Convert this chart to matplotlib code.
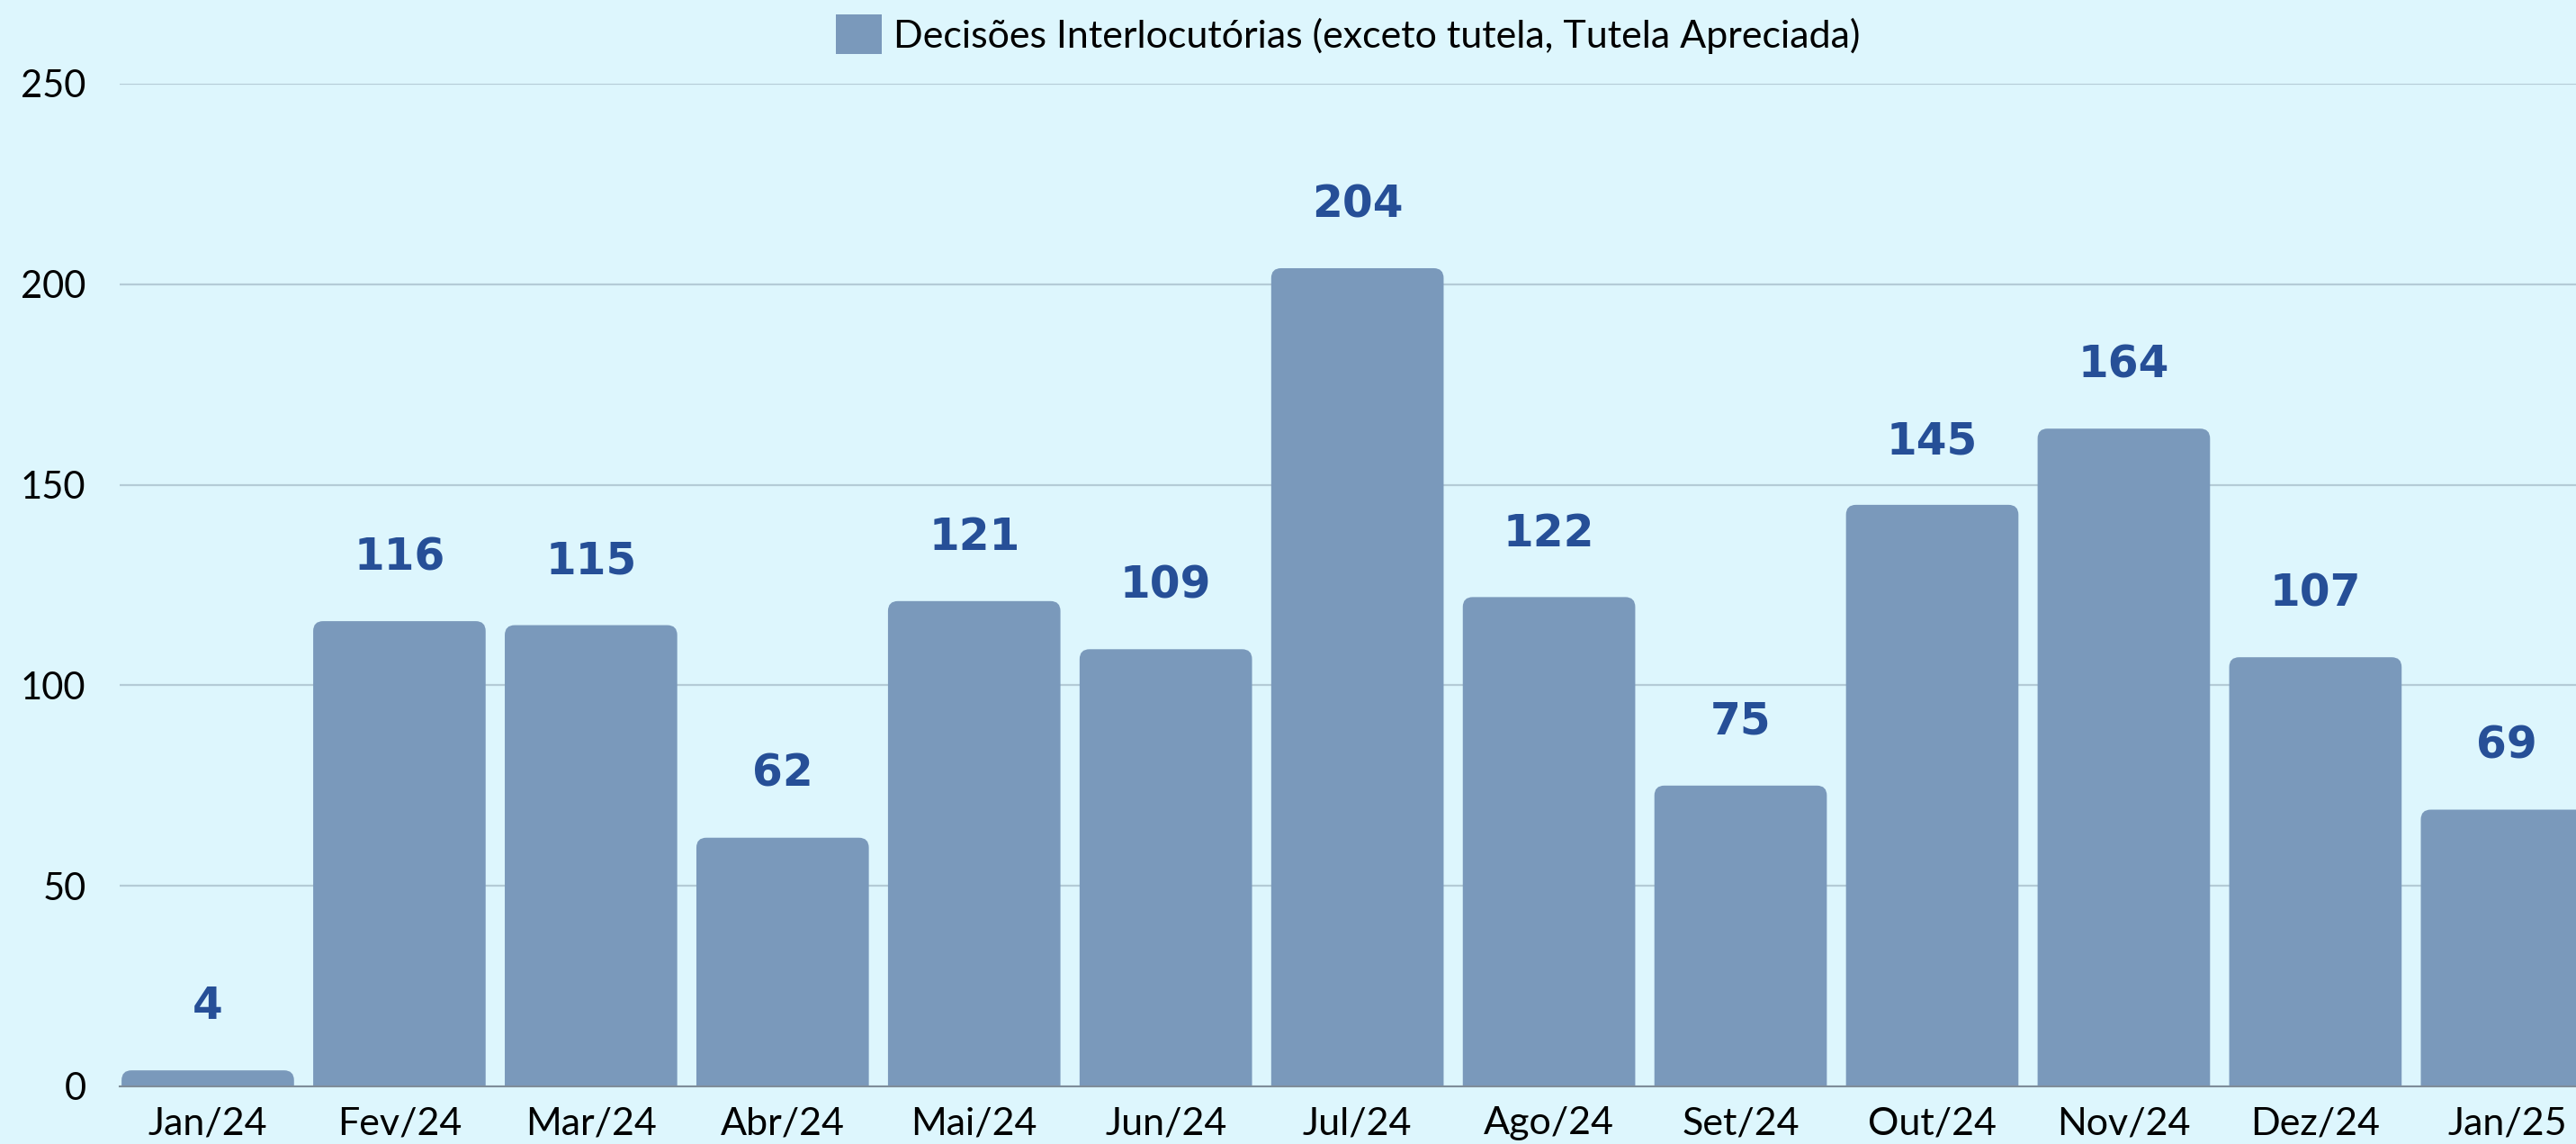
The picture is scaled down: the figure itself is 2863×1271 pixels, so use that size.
import matplotlib
matplotlib.use("Agg")
import matplotlib.pyplot as plt
from matplotlib.patches import FancyBboxPatch, Patch

months = ["Jan/24", "Fev/24", "Mar/24", "Abr/24", "Mai/24", "Jun/24", "Jul/24",
          "Ago/24", "Set/24", "Out/24", "Nov/24", "Dez/24", "Jan/25"]
values = [4, 116, 115, 62, 121, 109, 204, 122, 75, 145, 164, 107, 69]
series_name = "Decisões Interlocutórias (exceto tutela, Tutela Apreciada)"
yticks = [0, 50, 100, 150, 200, 250]

BG = "#ddf6fd"
BAR = "#7a99bb"
LBL = "#264f97"

W, H, DPI = 2863, 1271, 100
fig = plt.figure(figsize=(W / DPI, H / DPI), dpi=DPI, facecolor=BG)
ax = fig.add_axes([133 / W, 1 - 1207 / H, 1 - 133 / W, (1207 - 93) / H])
ax.set_facecolor(BG)

x = list(range(len(months)))
bars = ax.bar(x, values, width=0.9, color=BAR, zorder=2)
ax.set_xlim(-0.46, 12.36)
ax.set_ylim(0, 250)

# swap plain rectangles for ones with rounded top corners
bb = ax.get_window_extent()
px_x = bb.width / (ax.get_xlim()[1] - ax.get_xlim()[0])
px_y = bb.height / 250
r_px = 11
for b in bars:
    x0, w, h = b.get_x(), b.get_width(), b.get_height()
    ext = r_px / px_y
    p = FancyBboxPatch((x0, -ext), w, h + ext,
                       boxstyle=f"round,pad=0,rounding_size={r_px / px_x}",
                       mutation_aspect=px_x / px_y,
                       facecolor=BAR, edgecolor="none", zorder=2)
    ax.add_patch(p)
    b.set_visible(False)

for xi, v in zip(x, values):
    ax.annotate(str(v), (xi, v), xytext=(0, 51), textcoords="offset points",
                ha="center", va="center", fontsize=35, color=LBL,
                family="DejaVu Sans", weight="bold")

ax.set_yticks(yticks)
ax.set_xticks(x)
ax.set_xticklabels(months)
ax.grid(axis="y", color="#b4cbd6", lw=1.6, zorder=0)
ax.set_axisbelow(True)
for s in ("left", "right", "top"):
    ax.spines[s].set_visible(False)
ax.spines["bottom"].set_color("#7f8d99")
ax.spines["bottom"].set_linewidth(1.5)
ax.tick_params(axis="both", length=0, labelcolor="black")
ax.tick_params(axis="y", pad=27, labelsize=30)
ax.tick_params(axis="x", pad=16, labelsize=31)
for t in ax.get_xticklabels() + ax.get_yticklabels():
    t.set_family("Lato")

# legend centred over the plot area, not the whole figure
ax.legend(handles=[Patch(facecolor=BAR, label=series_name)],
          loc="center", bbox_to_anchor=(0.5, 1 + 55 / bb.height),
          frameon=False, prop={"family": "Lato", "size": 31},
          handlelength=1.2, handleheight=1.2, handletextpad=0.3)

fig.savefig("out.png", dpi=DPI, facecolor=BG)
